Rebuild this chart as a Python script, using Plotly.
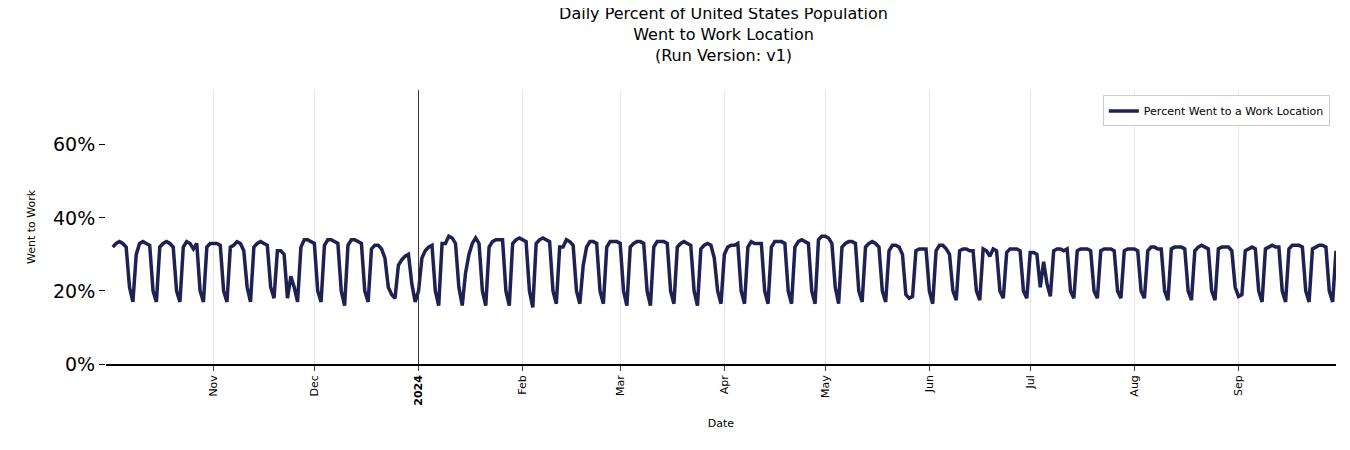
import pandas as pd
import plotly.graph_objects as go

# weekly rows, Monday..Sunday, starting Mon 2023-10-02
weeks = [
    [32,33,33.5,33,32,21,17],
    [30,33,33.5,33,32.5,20,17],
    [32,33,33.5,33,32,20,17],
    [32,33.5,33,31.5,33,20,17],
    [32,33,33,33,32.5,20,17],
    [32,32.5,33.5,33,31,21,17],
    [32,33,33.5,33,32.5,21,18],
    [31,31,30,18,24,21,17],
    [32,34,34,33.5,33,20,17],
    [32.5,34,34,33.5,33,20,16],
    [32.5,34,34,33.5,33,20,17],
    [31.5,32.5,32.5,31.5,29,21,19],
    [18,27,28.5,29.5,30,22,17],
    [20,29,31,32,32.5,20,16],
    [33,33,35,34.5,33,21,16],
    [25,30,33,34.5,33,20,16],
    [32,33.5,34,34,34,20,16],
    [33,34,34.5,34,33.5,20,15.5],
    [33,34,34.5,34,33.5,20,16.5],
    [32,32,34,33.5,32.5,20,16.5],
    [27,32,33.5,33.5,33,20,16.5],
    [32,33.5,33.5,33.5,33,20,16],
    [32,33,33.5,33.5,33,20,16],
    [32,33.5,33.5,33.5,33,20,16.5],
    [32,33,33.5,33,32.5,20,16],
    [31.5,32.5,33,32.5,29,20,16.5],
    [30,32,32.5,32.5,33,20,16.5],
    [32,33.5,33,33,33,20,16.5],
    [32,33.5,33.5,33.5,33,20,16.5],
    [32,33.5,34,33.5,33,20,16.5],
    [34,35,35,34.5,33,21,16.5],
    [32,33,33.5,33.5,33,20,17],
    [32,33,33.5,33,32,20,17],
    [31,32.5,32.5,32,30,19,18],
    [18.5,31,31.5,31.5,31.5,20,16.5],
    [31,32.5,32.5,31.5,30,20,17.5],
    [31,31.5,31.5,31,31,20,17.5],
    [31.5,31,29.5,31.5,31,20,18],
    [30.5,31.5,31.5,31.5,31,20,18],
    [30.5,30.5,30,21,28,22,18.5],
    [31,31.5,31.5,31,31.5,20,18],
    [31,31.5,31.5,31.5,31,20,18],
    [31,31.5,31.5,31.5,31,20,18],
    [31,31.5,31.5,31.5,31,20,18],
    [31,32,32,31.5,31.5,20,17.5],
    [31.5,32,32,32,31.5,20,17.5],
    [31,32,32.5,32,31.5,20,17.5],
    [31.5,32,32,32,31,21,18.5],
    [19,31,31.5,32,31.5,20,17],
    [31.5,32,32.5,32,32,20,17],
    [31.5,32.5,32.5,32.5,32,20,17],
    [31.5,32,32.5,32.5,32,20,17],
    [31],
]
values = [v for w in weeks for v in w]
dates = pd.date_range("2023-10-02", periods=len(values), freq="D")

tick_vals = ["2023-11-01","2023-12-01","2024-01-01","2024-02-01","2024-03-01","2024-04-01",
             "2024-05-01","2024-06-01","2024-07-01","2024-08-01","2024-09-01"]
tick_text = ["Nov","Dec","<b>2024</b>","Feb","Mar","Apr","May","Jun","Jul","Aug","Sep"]
y_vals = [0, 20, 40, 60]
y_text = ["0%", "20%", "40%", "60%"]

fig = go.Figure()
fig.add_trace(go.Scatter(x=dates, y=values, mode="lines", name="Percent Went to a Work Location",
                         line=dict(color="#1f2152", width=3.5)))
fig.add_shape(type="line", xref="x", yref="paper", x0="2024-01-01", x1="2024-01-01", y0=0, y1=1,
              line=dict(color="#333", width=1))
fig.update_layout(
    width=1350, height=450, plot_bgcolor="white", paper_bgcolor="white",
    margin=dict(l=98, r=22, t=82, b=94, autoexpand=False),
    font=dict(family="DejaVu Sans", color="black"),
    title=dict(text="Daily Percent of United States Population<br>Went to Work Location<br>(Run Version: v1)",
               x=0.53, xanchor="center", xref="container", yref="container", y=0.975, yanchor="top",
               font=dict(size=16)),
    showlegend=True,
    legend=dict(x=0.995, y=0.98, xanchor="right", yanchor="top", bordercolor="#ccc", borderwidth=1,
                font=dict(size=11)),
    xaxis=dict(range=["2023-09-30", "2024-09-30"], tickvals=tick_vals, ticktext=tick_text,
               tickangle=-90, tickfont=dict(size=11), showgrid=True, gridcolor="#e5e5e5",
               ticks="outside", ticklen=5, showline=True, linecolor="black", linewidth=1.5,
               zeroline=False, automargin=False, title=dict(text="Date", font=dict(size=11))),
    yaxis=dict(range=[0, 75], tickvals=y_vals, ticktext=y_text, tickfont=dict(size=19),
               showgrid=False, zeroline=False, showline=False, ticks="outside", ticklen=6,
               tickcolor="black", automargin=False, title=dict(text="Went to Work", font=dict(size=11))),
)
fig.write_html("out.html")
